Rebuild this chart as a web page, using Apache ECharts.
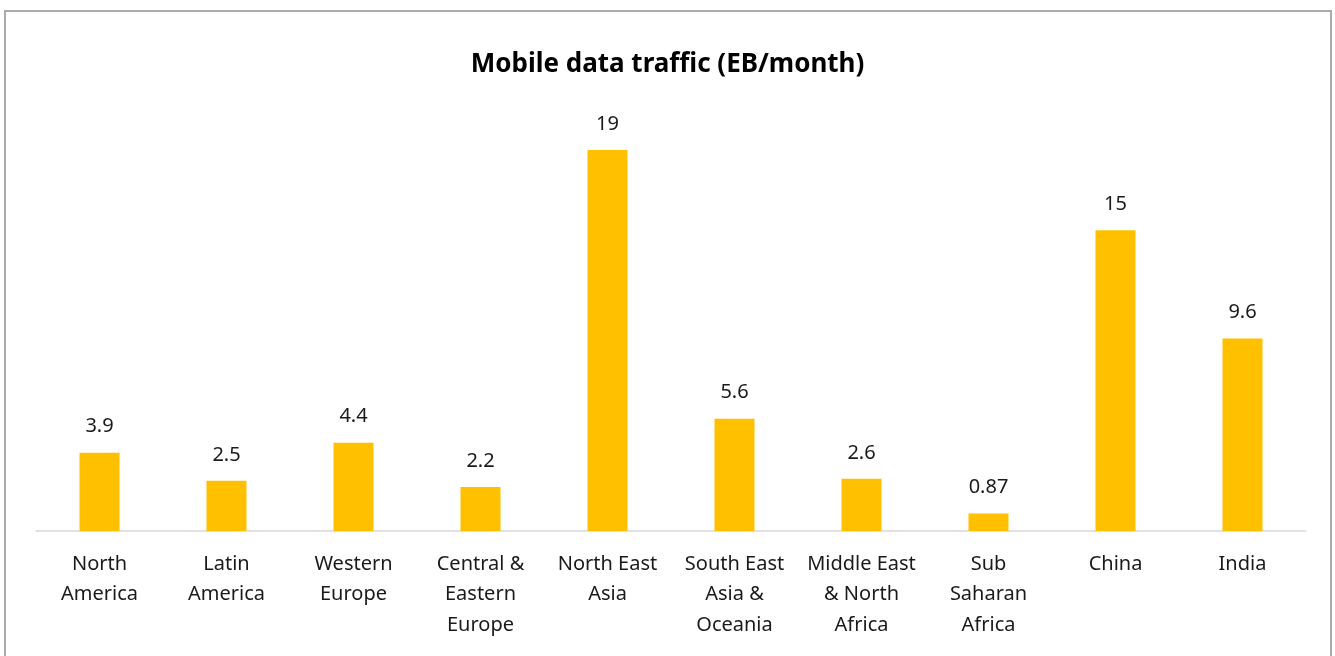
<!DOCTYPE html>
<html>
<head>
<meta charset="utf-8">
<script src="https://cdn.jsdelivr.net/npm/echarts@6/dist/echarts.min.js"></script>
<style>
  html, body { margin: 0; padding: 0; background: #fff; }
  #main { width: 1335px; height: 656px; }
</style>
</head>
<body>
<div id="main"></div>
<script>
// data
var categories = ['North\nAmerica', 'Latin\nAmerica', 'Western\nEurope', 'Central &\nEastern\nEurope',
  'North East\nAsia', 'South East\nAsia &\nOceania', 'Middle East\n& North\nAfrica', 'Sub\nSaharan\nAfrica',
  'China', 'India']
var traffic = [3.9, 2.5, 4.4, 2.2, 19, 5.6, 2.6, 0.87, 15, 9.6]
var titleText = 'Mobile data traffic (EB/month)'

var chart = echarts.init(document.getElementById('main'))
var font = '"Noto Sans", "DejaVu Sans", sans-serif'

var option = {
  animation: false,
  textStyle: { fontFamily: font },
  title: {
    text: titleText,
    left: 'center',
    top: 47,
    textStyle: { fontSize: 26, fontWeight: 'bold', color: '#000', fontFamily: font }
  },
  graphic: [{
    type: 'rect',
    shape: { x: 5, y: 11, width: 1326, height: 700 },
    style: { fill: 'none', stroke: '#ABABAB', lineWidth: 2 },
    silent: true
  }],
  grid: { left: 36, right: 29, top: 150, bottom: 125 },
  xAxis: {
    type: 'category',
    data: categories,
    axisLine: { lineStyle: { color: '#D9D9D9', width: 1.5 } },
    axisTick: { show: false },
    axisLabel: {
      interval: 0,
      margin: 18,
      fontSize: 20,
      lineHeight: 30.5,
      color: '#1a1a1a'
    }
  },
  yAxis: {
    type: 'value',
    min: 0,
    max: 19,
    show: false,
    splitLine: { show: false }
  },
  series: [{
    type: 'bar',
    data: traffic,
    barWidth: 40,
    itemStyle: { color: '#FFC000' },
    label: {
      show: true,
      position: 'top',
      distance: 16,
      fontSize: 20,
      color: '#1a1a1a'
    }
  }]
}

chart.setOption(option)
</script>
</body>
</html>
